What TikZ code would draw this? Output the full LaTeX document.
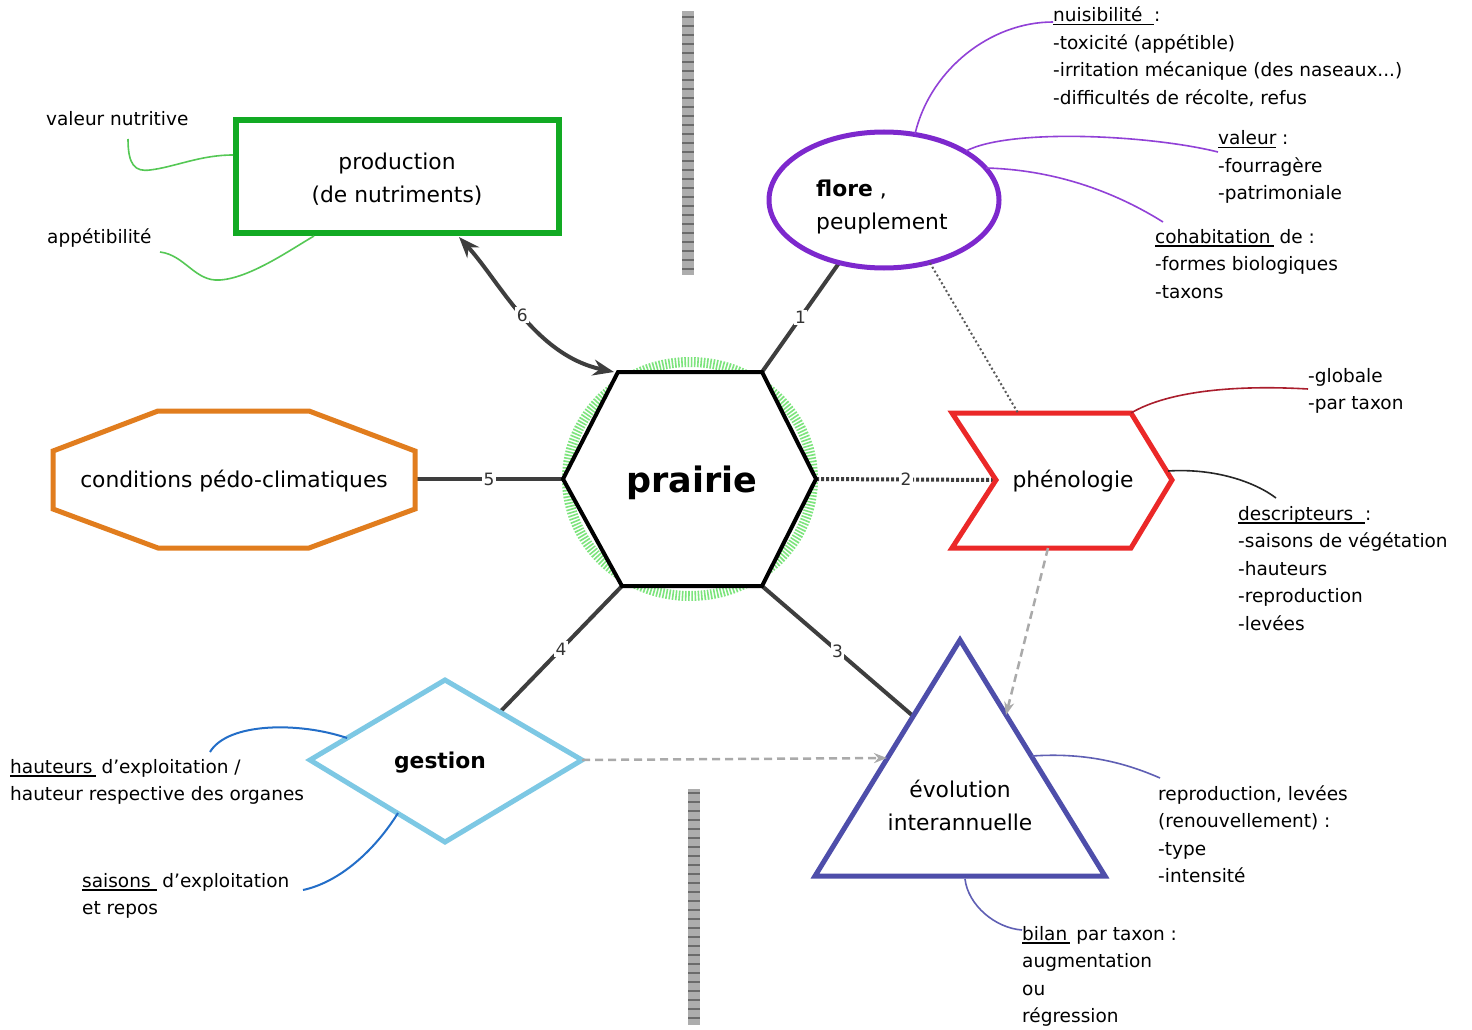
\documentclass[tikz,border=0pt]{standalone}
\usepackage{fontspec}
\setmainfont{DejaVu Sans}
\usetikzlibrary{arrows.meta}
\definecolor{prodgreen}{RGB}{18,170,35}
\definecolor{anngreen}{RGB}{85,200,85}
\definecolor{florepurple}{RGB}{125,40,205}
\definecolor{annpurple}{RGB}{145,65,215}
\definecolor{octorange}{RGB}{225,125,30}
\definecolor{phenred}{RGB}{235,40,40}
\definecolor{annred}{RGB}{170,30,45}
\definecolor{trislate}{RGB}{78,78,170}
\definecolor{annslate}{RGB}{95,95,180}
\definecolor{gestblue}{RGB}{125,200,228}
\definecolor{annblue}{RGB}{35,110,200}
\definecolor{conngray}{RGB}{62,62,62}
\definecolor{hatchgreen}{RGB}{125,228,125}
\definecolor{lightdash}{RGB}{170,170,170}
\newsavebox{\ulbox}
\newcommand{\myul}[1]{\sbox{\ulbox}{#1}\rlap{\rule[-3.5pt]{\wd\ulbox}{1.6pt}}\usebox{\ulbox}}
\newcommand{\blk}[1]{\begin{tabular}[t]{@{}l@{}}#1\end{tabular}}
\tikzset{
  anno/.style={font=\fontsize{18.5}{27.5}\selectfont, inner sep=0pt, anchor=base west},
  nodetxt/.style={font=\fontsize{21.8}{33}\selectfont, inner sep=0pt, align=center},
  shapeline/.style={line width=5pt, line join=miter, fill=white},
  conn/.style={draw=conngray, line width=4pt},
  numlbl/.style={fill=white, inner sep=1.5pt, font=\fontsize{17}{17}\selectfont, text=black!80},
  annoline/.style={line width=1.6pt},
  graydash/.style={draw=lightdash, line width=2.5pt, dash pattern=on 8pt off 5pt, -{Stealth[length=13pt,width=10pt]}},
  barfill/.style={fill=black!32},
  barstripe/.style={draw=black!58, line width=12pt, dash pattern=on 2pt off 7pt},
}
\begin{document}
\begin{tikzpicture}[x=1pt,y=-1pt]
\useasboundingbox (0,0) rectangle (1472,1030);
\fill[white] (0,0) rectangle (1472,1030);

% hatched vertical bars
\fill[barfill] (682,11) rectangle (694,275);
\draw[barstripe] (688,16) -- (688,275);
\fill[barfill] (688,789) rectangle (700,1025);
\draw[barstripe] (694,792) -- (694,1025);

% green hatched ring around the hexagon
\draw[hatchgreen, line width=10pt, dash pattern=on 1.6pt off 1.6pt] (690,479) ellipse [x radius=123, y radius=117];

% named points on the shapes
\coordinate (hT1) at (618,372);
\coordinate (hT2) at (762,372);
\coordinate (hR) at (816,479);
\coordinate (hB2) at (762,586);
\coordinate (hB1) at (622,586);
\coordinate (hL) at (563,479);
\coordinate (floreB) at (839,263);
\coordinate (floreB2) at (930,263);
\coordinate (floreT) at (915,134);
\coordinate (floreR1) at (966,151);
\coordinate (floreR2) at (986,168);
\coordinate (phenL) at (996,480);
\coordinate (phenT) at (1018,413);
\coordinate (phenB) at (1048,548);
\coordinate (phenTR) at (1131,413);
\coordinate (phenTip) at (1168,471);
\coordinate (triL) at (913,716);
\coordinate (triL2) at (887,758);
\coordinate (triR) at (1006,715);
\coordinate (triR2) at (1032,756);
\coordinate (triB) at (965,879);
\coordinate (gestUR) at (500,712);
\coordinate (gestR) at (582,760);
\coordinate (gestUL) at (347,738);
\coordinate (gestLL) at (398,813);
\coordinate (octR) at (415,479);
\coordinate (prodB) at (459,237);
\coordinate (prodL) at (233,155);
\coordinate (prodB2) at (314,236);
\coordinate (hexArrow) at (614,372);

% main connectors (behind the shapes)
\draw[conn] (hT2) -- node[numlbl]{1} (floreB);
\draw[conn, dash pattern=on 3pt off 2pt] (hR) -- node[numlbl]{2} (phenL);
\draw[conn] (hB2) -- node[numlbl]{3} (triL);
\draw[conn] (hB1) -- node[numlbl]{4} (gestUR);
\draw[conn] (octR) -- node[numlbl]{5} (hL);

% shapes
\draw[shapeline, line width=4pt] (hT1) -- (hT2) -- (hR) -- (hB2) -- (hB1) -- (hL) -- cycle;
\draw[shapeline, draw=prodgreen, line width=6pt] (236,120) rectangle (559,233);
\draw[shapeline, draw=florepurple] (884,200) ellipse [x radius=115, y radius=68];
\draw[shapeline, draw=octorange] (53,451) -- (158,411) -- (309,411) -- (415,451) -- (415,509) -- (309,548) -- (158,548) -- (53,509) -- cycle;
\draw[shapeline, draw=phenred] (952,413) -- (1131,413) -- (1172,480) -- (1131,548) -- (952,548) -- (996,480) -- cycle;
\draw[shapeline, draw=gestblue] (445,680) -- (582,760) -- (445,842) -- (310,760) -- cycle;
\draw[shapeline, draw=trislate] (960,640) -- (1105,876) -- (815,876) -- cycle;

% node texts
\node[font=\fontsize{35}{40}\selectfont\bfseries, inner sep=0pt] (prairie) at (692,483) {prairie};
\node[nodetxt] (production) at (397,179) {production\\(de nutriments)};
\node[nodetxt, anchor=base west, align=left] (flore) at (816,196) {\blk{\textbf{flore} ,\\peuplement}};
\node[nodetxt] (conditions) at (234,481) {conditions pédo-climatiques};
\node[nodetxt] (phenologie) at (1073,481) {phénologie};
\node[nodetxt, font=\fontsize{21.8}{33}\selectfont\bfseries] (gestion) at (440,763) {gestion};
\node[nodetxt] (evolution) at (960,805) {évolution\\interannuelle};

% connector 6 (double arrow)
\draw[conn, {Stealth[length=21pt,width=16pt]}-{Stealth[length=21pt,width=16pt]}] (prodB) .. controls (500,282) and (535,355) .. node[numlbl, pos=0.5]{6} (hexArrow);

% light dashed / dotted relations
\draw[draw=black!65, line width=2pt, dash pattern=on 2pt off 2.5pt] (floreB2) -- (phenT);
\draw[graydash] (phenB) -- (triR);
\draw[graydash] (gestR) -- (triL2);

% annotation texts
\node[anno] (valnut) at (46,126) {valeur nutritive};
\node[anno] (appet) at (47,243) {appétibilité};
\node[anno] (nuis) at (1053,22) {\blk{\myul{nuisibilité\ \ }:\\-toxicité (appétible)\\-irritation mécanique (des naseaux...)\\-difficultés de récolte, refus}};
\node[anno] (valeur) at (1218,145) {\blk{\myul{valeur} :\\-fourragère\\-patrimoniale}};
\node[anno] (cohab) at (1155,243) {\blk{\myul{cohabitation\,} de :\\-formes biologiques\\-taxons}};
\node[anno] (glob) at (1308,382) {\blk{-globale\\-par taxon}};
\node[anno] (descr) at (1238,520) {\blk{\myul{descripteurs\ \ }:\\-saisons de végétation\\-hauteurs\\-reproduction\\-levées}};
\node[anno] (haut) at (10,773) {\blk{\myul{hauteurs\,} d'exploitation /\\hauteur respective des organes}};
\node[anno] (sais) at (82,887) {\blk{\myul{saisons\ } d'exploitation\\et repos}};
\node[anno] (repro) at (1158,800) {\blk{reproduction, levées\\(renouvellement) :\\-type\\-intensité}};
\node[anno] (bilan) at (1022,940) {\blk{\myul{bilan\,} par taxon :\\augmentation\\ou\\régression}};

% annotation curves
\coordinate (valnutE) at (128,139);
\coordinate (appetE) at (160,252);
\coordinate (nuisE) at (1053,22);
\coordinate (valeurE) at (1218,152);
\coordinate (cohabE) at (1163,222);
\coordinate (globE) at (1308,389);
\coordinate (descrE) at (1276,498);
\coordinate (hautE) at (210,752);
\coordinate (saisE) at (303,890);
\coordinate (reproE) at (1160,778);
\coordinate (bilanE) at (1022,930);

\draw[annoline, anngreen] (valnutE) .. controls (128,165) and (135,172) .. (150,170) .. controls (175,167) and (200,155) .. (prodL);
\draw[annoline, anngreen] (appetE) .. controls (185,255) and (195,282) .. (220,280) .. controls (250,278) and (290,250) .. (prodB2);
\draw[annoline, annpurple] (floreT) .. controls (930,70) and (990,22) .. (nuisE);
\draw[annoline, annpurple] (floreR1) .. controls (1010,128) and (1150,135) .. (valeurE);
\draw[annoline, annpurple] (floreR2) .. controls (1060,170) and (1120,195) .. (cohabE);
\draw[annoline, annred] (phenTR) .. controls (1170,390) and (1240,385) .. (globE);
\draw[annoline, black!85] (phenTip) .. controls (1215,468) and (1255,482) .. (descrE);
\draw[annoline, annblue, line width=2pt] (hautE) .. controls (228,722) and (300,722) .. (gestUL);
\draw[annoline, annblue, line width=2pt] (gestLL) .. controls (375,850) and (340,882) .. (saisE);
\draw[annoline, annslate] (triR2) .. controls (1090,752) and (1130,765) .. (reproE);
\draw[annoline, annslate] (triB) .. controls (968,905) and (995,928) .. (bilanE);
\end{tikzpicture}
\end{document}
